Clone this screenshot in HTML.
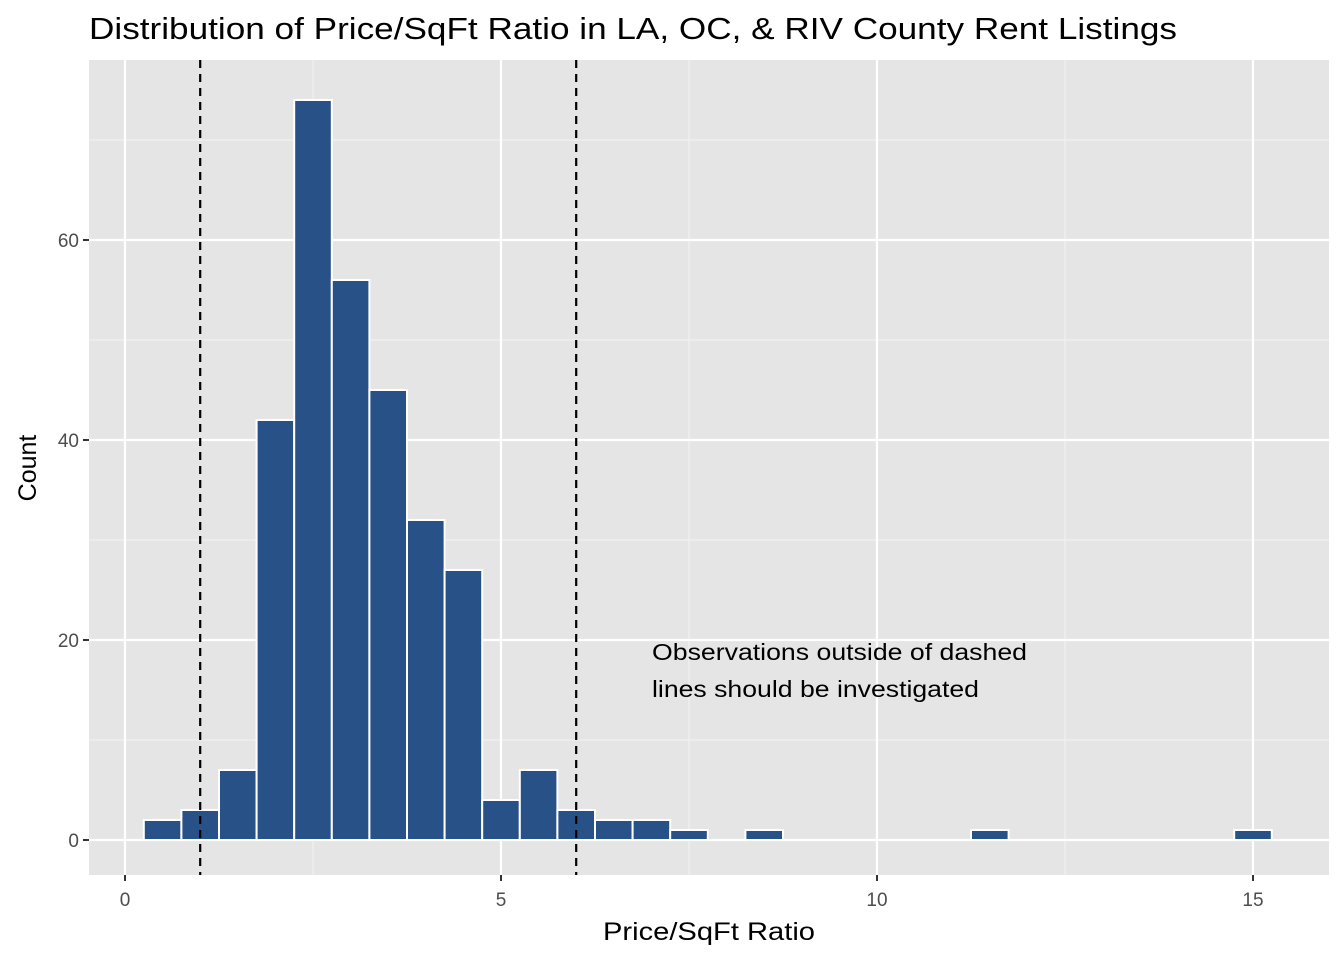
<!DOCTYPE html>
<html><head><meta charset="utf-8"><style>
body{margin:0;background:#fff;}
svg{display:block;font-family:"Liberation Sans",Arial,sans-serif;}
</style></head><body>
<svg id="chart" width="1344" height="960">
<text x="89" y="39" font-size="31" textLength="1088" lengthAdjust="spacingAndGlyphs" fill="#000">Distribution of Price/SqFt Ratio in LA, OC, &amp; RIV County Rent Listings</text>
<rect x="89" y="60" width="1240" height="815" fill="#e5e5e5"/>
<g id="grid"></g>
<g id="bars"></g>
<g id="vlines"></g>
<g id="axes"></g>
<text x="652" y="660" font-size="23" textLength="375" lengthAdjust="spacingAndGlyphs" fill="#000">Observations outside of dashed</text>
<text x="652" y="697" font-size="23" textLength="327" lengthAdjust="spacingAndGlyphs" fill="#000">lines should be investigated</text>
<text x="709" y="940" font-size="25" textLength="212" lengthAdjust="spacingAndGlyphs" text-anchor="middle" fill="#000">Price/SqFt Ratio</text>
<text transform="translate(36,468) rotate(-90)" font-size="25" text-anchor="middle" fill="#000">Count</text>
</svg>
<script>
const binCenters=[0.5,1.0,1.5,2.0,2.5,3.0,3.5,4.0,4.5,5.0,5.5,6.0,6.5,7.0,7.5,8.5,11.5,15.0];
const counts=[2,3,7,42,74,56,45,32,27,4,7,3,2,2,1,1,1,1];
const binWidth=0.5;
const xTicks=[0,5,10,15];
const yTicks=[0,20,40,60];
const xMinor=[2.5,7.5,12.5];
const yMinor=[10,30,50,70];
const cutoffs=[1,6];
const NS="http://www.w3.org/2000/svg";
const X=v=>125+v*75.2;
const Y=v=>840-v*10;
const P={l:89,r:1329,t:60,b:875};
function mk(tag,attrs,parent){const e=document.createElementNS(NS,tag);for(const k in attrs)e.setAttribute(k,attrs[k]);document.getElementById(parent).appendChild(e);return e;}
xMinor.forEach(v=>{const e=mk('line',{x1:X(v),x2:X(v),y1:P.t,y2:P.b,stroke:'#f2f2f2','stroke-width':1.1},'grid');

});
yMinor.forEach(v=>{const e=mk('line',{x1:P.l,x2:P.r,y1:Y(v),y2:Y(v),stroke:'#f2f2f2','stroke-width':1.1},'grid');

});
xTicks.forEach(v=>{const e=mk('line',{x1:X(v),x2:X(v),y1:P.t,y2:P.b,stroke:'#fff','stroke-width':2.2},'grid');


mk('line',{x1:X(v),x2:X(v),y1:P.b,y2:P.b+6,stroke:'#333','stroke-width':2},'axes');
const t=mk('text',{x:X(v),y:P.b+31,'font-size':19,fill:'#4d4d4d','text-anchor':'middle'},'axes');t.textContent=v;

});
yTicks.forEach(v=>{const e=mk('line',{x1:P.l,x2:P.r,y1:Y(v),y2:Y(v),stroke:'#fff','stroke-width':2.2},'grid');


mk('line',{x1:P.l-6,x2:P.l,y1:Y(v),y2:Y(v),stroke:'#333','stroke-width':2},'axes');
const t=mk('text',{x:P.l-10,y:Y(v)+7,'font-size':19,fill:'#4d4d4d','text-anchor':'end'},'axes');t.textContent=v;

});
binCenters.forEach((c,i)=>{const x0=X(c-binWidth/2),x1=X(c+binWidth/2);
const r=mk('rect',{x:x0,y:Y(counts[i]),width:x1-x0,height:Y(0)-Y(counts[i]),fill:'#285287',stroke:'#fff','stroke-width':2},'bars');

});
cutoffs.forEach(v=>{const e=mk('line',{x1:X(v),x2:X(v),y1:P.t,y2:P.b,stroke:'#000','stroke-width':2.2,'stroke-dasharray':'8,6'},'vlines');

});
</script>
</body></html>
